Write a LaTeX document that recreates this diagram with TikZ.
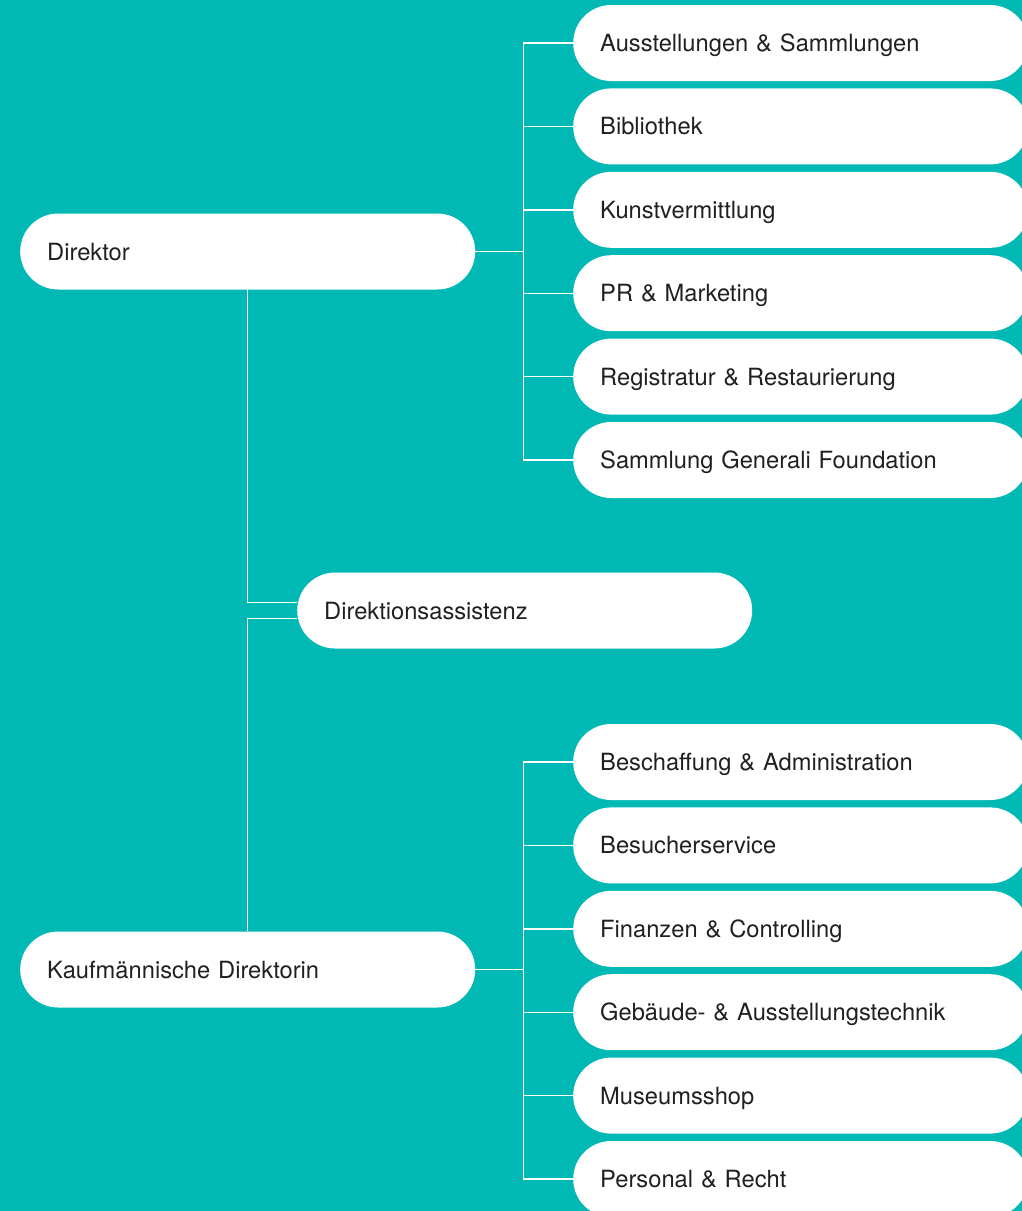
\documentclass[tikz,border=0pt]{standalone}
\usepackage{fontspec}
\setmainfont{TeX Gyre Heros}
\usetikzlibrary{positioning}
\definecolor{bgteal}{RGB}{0,185,180}
\definecolor{textgray}{RGB}{35,31,32}
\tikzset{
  unit/.style={rectangle, fill=white, rounded corners=38pt, minimum height=76pt,
    text width=401pt, inner xsep=27pt, inner ysep=0pt, text height=17pt, text depth=0pt,
    align=left, font=\fontsize{23.7}{28}\selectfont, text=textgray},
  link/.style={draw=white, line width=1.4pt}
}
\begin{document}
\begin{tikzpicture}[x=1pt, y=-1pt]
        \useasboundingbox (0,0) rectangle (1022,1211);
        \fill[bgteal] (0,0) rectangle (1022,1211);
        \clip (0,0) rectangle (1022,1211);

        \node[unit, anchor=west] (dir) at (20,251.5) {Direktor};
        \node[unit, anchor=west] (assist) at (297,610.5) {Direktionsassistenz};
        \node[unit, anchor=west] (kfm) at (20,969.5) {Kaufmännische Direktorin};

        \node[unit, anchor=west] (a1) at (573,43) {Ausstellungen \& Sammlungen};
        \node[unit] (a2) [below = 7pt of a1] {Bibliothek};
        \node[unit] (a3) [below = 7pt of a2] {Kunstvermittlung};
        \node[unit] (a4) [below = 7pt of a3] {PR \& Marketing};
        \node[unit] (a5) [below = 7pt of a4] {Registratur \& Restaurierung};
        \node[unit] (a6) [below = 7pt of a5] {Sammlung Generali Foundation};

        \node[unit, anchor=west] (b1) at (573,762) {Beschaffung \& Administration};
        \node[unit] (b2) [below = 7pt of b1] {Besucherservice};
        \node[unit] (b3) [below = 7pt of b2] {Finanzen \& Controlling};
        \node[unit] (b4) [below = 7pt of b3] {Gebäude- \& Ausstellungstechnik};
        \node[unit] (b5) [below = 7pt of b4] {Museumsshop};
        \node[unit] (b6) [below = 7pt of b5] {Personal \& Recht};

        \draw[link] (dir.east) -- ++(48,0) coordinate (dspine);
        \draw[link] (dspine |- a1.west) -- (dspine |- a6.west);
        \foreach \n in {a1, a2, a3, a4, a5, a6}
          \draw[link] (dspine |- \n.west) -- (\n.west);

        \draw[link] (kfm.east) -- ++(48,0) coordinate (kspine);
        \draw[link] (kspine |- b1.west) -- (kspine |- b6.west);
        \foreach \n in {b1, b2, b3, b4, b5, b6}
          \draw[link] (kspine |- \n.west) -- (\n.west);

        \draw[link] (dir.south) |- ([yshift=8pt]assist.west);
        \draw[link] ([yshift=-8pt]assist.west) -| (kfm.north);
      \end{tikzpicture}
\end{document}
